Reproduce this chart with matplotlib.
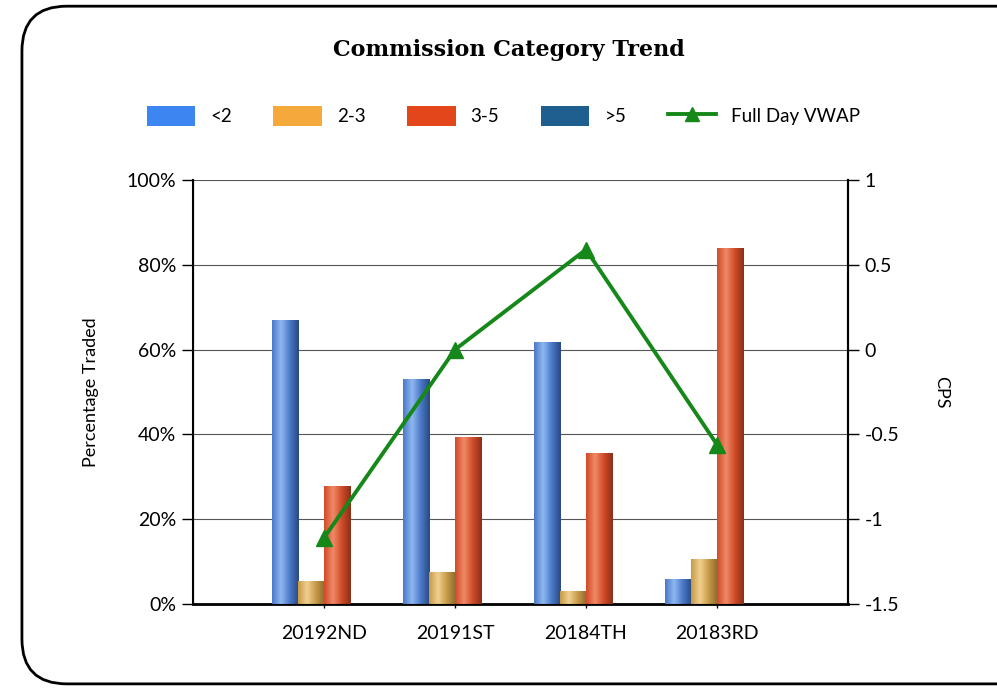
import numpy as np
import matplotlib
matplotlib.use("Agg")
import matplotlib.pyplot as plt
from matplotlib.patches import FancyBboxPatch, Patch
from matplotlib.lines import Line2D
from matplotlib.colors import LinearSegmentedColormap

categories = ["20192ND", "20191ST", "20184TH", "20183RD"]
series_names = ["<2", "2-3", "3-5", ">5"]
lt2 = [67.0, 53.0, 61.8, 5.9]
b23 = [5.4, 7.5, 3.0, 10.6]
b35 = [27.8, 39.4, 35.6, 84.0]
gt5 = [0.0, 0.0, 0.0, 0.0]
vwap = [-1.11, 0.0, 0.59, -0.56]
line_name = "Full Day VWAP"

legend_colors = ["#3d85f0", "#f6a93b", "#e2461a", "#1f5f8f"]
grad_colors = [("#4a78c8", "#8fb8f0", "#2a4a80"),
               ("#c89a48", "#f0d090", "#8a6a30"),
               ("#d04a28", "#f08a68", "#8a3018"),
               ("#1f5f8f", "#4a8ac0", "#103850")]

plt.rcParams['font.family'] = ['Lato', 'DejaVu Sans']

fig = plt.figure(figsize=(9.97, 6.88), dpi=100)
frame = FancyBboxPatch((0.022, 0.006), 1.2, 0.985, boxstyle="round,pad=0,rounding_size=0.045",
                       transform=fig.transFigure, facecolor="white", edgecolor="black",
                       linewidth=2, mutation_aspect=997/688, zorder=-10)
fig.patches.append(frame)

ax = fig.add_axes([193/997, 1-604/688, (848-193)/997, (604-180)/688])
ax.set_facecolor('none')
x = np.arange(1, len(categories)+1)
w = 0.2
offsets = [-0.3, -0.1, 0.1, 0.3]
data = [lt2, b23, b35, gt5]
for vals, off, lc, gc in zip(data, offsets, legend_colors, grad_colors):
    bars = ax.bar(x + off, vals, width=w, color=gc[0], zorder=3)
    cmap = LinearSegmentedColormap.from_list("g", [gc[0], gc[1], gc[0], gc[2]])
    grad = np.linspace(0, 1, 64).reshape(1, -1)
    for b in bars:
        h = b.get_height()
        if h <= 0:
            continue
        x0 = b.get_x()
        im = ax.imshow(grad, extent=(x0, x0 + b.get_width(), 0, h), aspect='auto',
                       cmap=cmap, zorder=3.5, interpolation='bicubic')
        im.set_clip_path(b)
ax.set_xlim(0, 5)
ax.set_ylim(0, 100)

ax.set_yticks([0, 20, 40, 60, 80, 100])
ax.set_yticklabels([f"{v}%" for v in [0, 20, 40, 60, 80, 100]], fontsize=14)
ax.set_xticks(x)
ax.set_xticklabels(categories, fontsize=14)
ax.grid(axis='y', color='#555555', linewidth=0.8, zorder=0)
ax.spines['top'].set_visible(False)
ax.spines['left'].set_linewidth(1.5)
ax.spines['bottom'].set_linewidth(2)
ax.spines['right'].set_linewidth(1.5)
ax.tick_params(axis='y', length=8, width=1, pad=4)
ax.tick_params(axis='x', length=6, width=1, direction='inout', pad=12)
ax.set_ylabel("Percentage Traded", fontsize=13, labelpad=20)

ax2 = ax.twinx()
ax2.set_ylim(-1.5, 1)
ax2.set_yticks([-1.5, -1, -0.5, 0, 0.5, 1])
ax2.set_yticklabels(["-1.5", "-1", "-0.5", "0", "0.5", "1"], fontsize=14)
ax2.tick_params(axis='y', length=8, width=1, pad=4)
ax2.spines['top'].set_visible(False)
ax2.spines['right'].set_linewidth(1.5)
ax2.plot(x, vwap, color="#16881a", linewidth=2.8, marker='^', markersize=11, zorder=5)
ax2.set_ylabel("CPS", fontsize=13, rotation=270, labelpad=36)

fig.text(0.51, 1-50/688, "Commission Category Trend", ha='center', va='center',
         fontsize=16, fontweight='bold', family='DejaVu Serif')

handles = [Patch(facecolor=c, edgecolor='none') for c in legend_colors]
handles.append(Line2D([0], [0], color="#16881a", linewidth=2.8, marker='^', markersize=10))
fig.legend(handles, series_names + [line_name], loc='center', bbox_to_anchor=(0.505, 1-116/688),
           ncol=5, frameon=False, fontsize=13.5, handlelength=2.6, handleheight=1.3,
           columnspacing=2.2, handletextpad=0.8)

fig.savefig("out.png", dpi=100)
